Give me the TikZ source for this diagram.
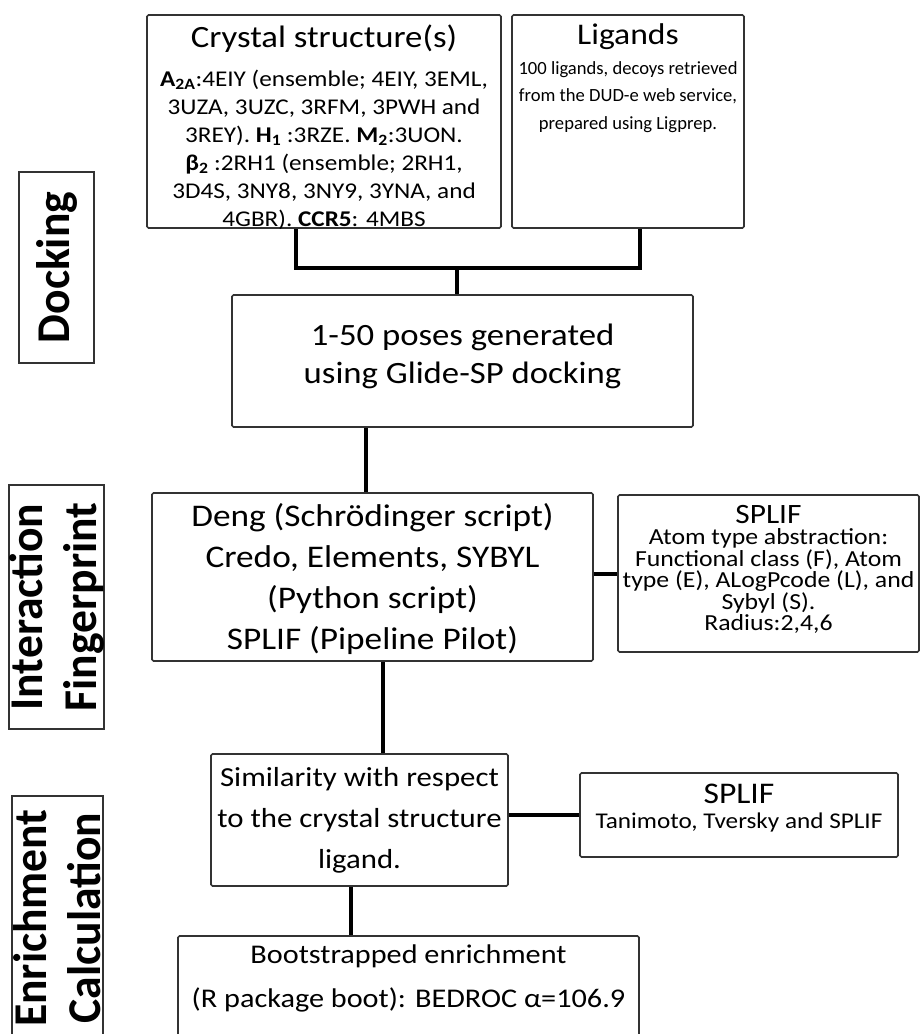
\documentclass[tikz,border=0pt]{standalone}
\usepackage{fontspec}
\setmainfont{Carlito}[FakeStretch=1.12]
\newfontfamily\stagefont{Carlito}[FakeStretch=0.97]
\newfontfamily\plainfont{Carlito}
\usetikzlibrary{positioning}

% text block inside a box: width, height, top pad, contents
\newcommand{\inbox}[4]{\parbox[c][#2][t]{#1}{\centering\vspace*{#3}#4}}
\newcommand{\headsize}{\fontsize{31}{36}\selectfont}
\newcommand{\bodysize}{\fontsize{22.5}{28}\selectfont}
\newcommand{\mainsize}{\fontsize{31.5}{41}\selectfont}

\tikzset{
  box/.style={draw=black!80,line width=1.6pt,rounded corners=1.5pt,inner sep=0pt},
  stage/.style={draw=black!80,line width=1.6pt,rotate=90,align=center,inner sep=0pt,
    font=\stagefont\bfseries\fontsize{47}{54}\selectfont},
  link/.style={line width=4pt}
}

\begin{document}
\begin{tikzpicture}[x=1pt,y=-1pt]
\useasboundingbox (0,0) rectangle (921,1034);

% stage labels
\node[stage,minimum width=191,minimum height=75] (docking) at (56.5,267.5) {Docking};
\node[stage,minimum width=244,minimum height=91] (finger) at (56.5,607) {Interaction\\Fingerprint};
\node[stage,minimum width=244,minimum height=91] (enrich) at (57.5,918) {Enrichment\\Calculation};

% docking
\node[box,minimum width=354,minimum height=213] (crystal) at (324,121.5)
  {\inbox{350pt}{211pt}{9pt}{{\headsize Crystal structure(s)\par}\vspace{11pt}\bodysize
   \textbf{A}\textsubscript{\textbf{2A}}:4EIY (ensemble; 4EIY, 3EML,\\
   3UZA, 3UZC, 3RFM, 3PWH and\\
   3REY). \textbf{H}\textsubscript{\textbf{1}} :3RZE. \textbf{M}\textsubscript{\textbf{2}}:3UON.\\
   \textbf{β}\textsubscript{\textbf{2}} :2RH1 (ensemble; 2RH1,\\
   3D4S, 3NY8, 3NY9, 3YNA, and\\
   4GBR). \textbf{CCR5}: 4MBS}};
\node[box,minimum width=232,minimum height=213] (ligands) at (628,121.5)
  {\inbox{230pt}{211pt}{8pt}{{\fontsize{30}{36}\selectfont Ligands\par}\vspace{2pt}\plainfont\fontsize{18.6}{27.5}\selectfont
   100 ligands, decoys retrieved\\
   from the DUD-e web service,\\
   prepared using Ligprep.}};
\node[box,minimum width=461,minimum height=132] (poses) at (462.5,361)
  {\inbox{455pt}{130pt}{28pt}{\fontsize{31}{38}\selectfont
   1-50 poses generated\\
   using Glide-SP docking}};

% interaction fingerprint
\node[box,minimum width=441,minimum height=168] (deng) at (372.5,577)
  {\inbox{437pt}{166pt}{9pt}{\mainsize
   Deng (Schrödinger script)\\
   Credo, Elements, SYBYL\\
   (Python script)\\
   SPLIF (Pipeline Pilot)}};
\node[box,minimum width=301,minimum height=157] (splif1) at (768.5,573.5)
  {\inbox{299pt}{155pt}{9pt}{{\fontsize{28}{30}\selectfont SPLIF\par}\fontsize{23}{21.5}\selectfont
   Atom type abstraction:\\
   Functional class (F), Atom\\
   type (E), ALogPcode (L), and\\
   Sybyl (S).\\
   Radius:2,4,6}};

% enrichment calculation
\node[box,minimum width=297,minimum height=132] (sim) at (359.5,820)
  {\inbox{295pt}{130pt}{12pt}{\fontsize{27.5}{41}\selectfont
   Similarity with respect\\
   to the crystal structure\\
   ligand.}};
\node[box,minimum width=318,minimum height=84] (splif2) at (739,815)
  {\inbox{314pt}{82pt}{10pt}{{\fontsize{30}{32}\selectfont SPLIF\par}\fontsize{22.5}{25}\selectfont
   Tanimoto, Tversky and SPLIF}};
\node[box,minimum width=461,minimum height=124] (boot) at (408.5,998)
  {\inbox{457pt}{122pt}{8pt}{\fontsize{27}{44}\selectfont
   Bootstrapped enrichment\\
   (R package boot): BEDROC α=106.9}};

% connectors
\coordinate (jl) at (296,268);
\coordinate (jm) at (457,268);
\coordinate (jr) at (640,268);
\coordinate (c1) at (366,0);
\coordinate (c2) at (383,0);
\coordinate (c3) at (351,0);
\draw[link] (crystal.south -| jl) -- (jl) -- (jr) -- (ligands.south -| jr);
\draw[link] (jm) -- (poses.north -| jm);
\draw[link] (poses.south -| c1) -- (deng.north -| c1);
\draw[link] (splif1.west -| deng.east) -- (splif1.west);
\draw[link] (deng.south -| c2) -- (sim.north -| c2);
\draw[link] (splif2.west -| sim.east) -- (splif2.west);
\draw[link] (sim.south -| c3) -- (boot.north -| c3);
\end{tikzpicture}
\end{document}
